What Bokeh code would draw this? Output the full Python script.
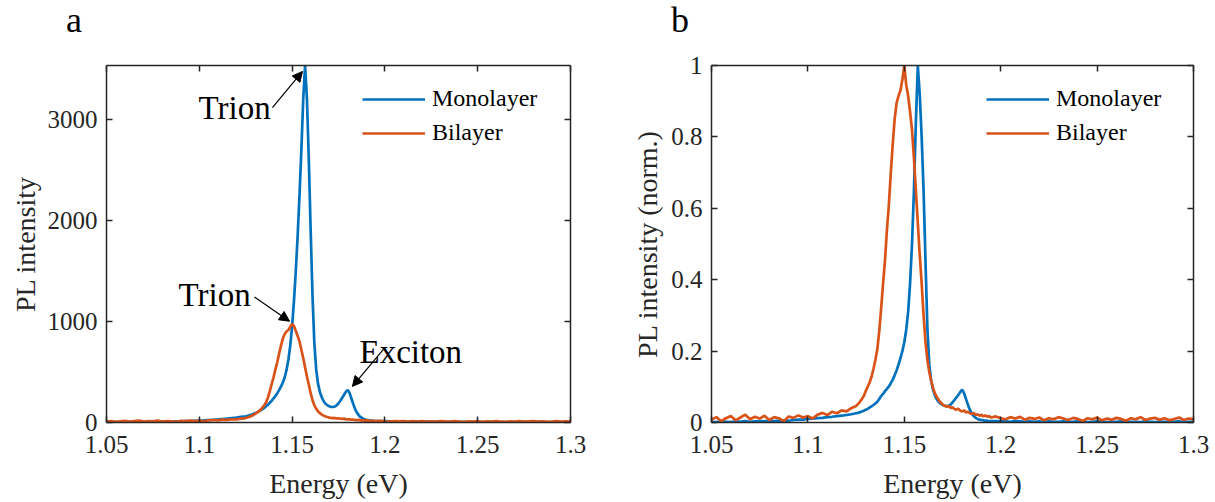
from bokeh.plotting import figure
from bokeh.models import (Range1d, FixedTicker, LinearAxis, Label, Arrow, Div,
                          NormalHead, Legend, LegendItem, CustomLabelingPolicy)
from bokeh.layouts import row, column
from bokeh.embed import file_html
from bokeh.resources import INLINE

FONT = "Liberation Serif"
BLUE = "#0072BD"
ORANGE = "#D95319"
AX = "#262626"

# ---------------- data ----------------
energy = [
    1.050, 1.0525, 1.055, 1.0575, 1.060, 1.0625, 1.065, 1.0675, 1.070, 1.0725,
    1.075, 1.0775, 1.080, 1.0825, 1.085, 1.0875, 1.090, 1.0925, 1.095, 1.0975,
    1.100, 1.1025, 1.105, 1.1075, 1.110, 1.1125, 1.115, 1.1175, 1.120, 1.1225, 1.125,
    1.126, 1.127, 1.128, 1.129, 1.130, 1.131, 1.132, 1.133, 1.134, 1.135,
    1.136, 1.137, 1.138, 1.139, 1.140, 1.141, 1.142, 1.143, 1.144, 1.145,
    1.146, 1.147, 1.148, 1.149, 1.150, 1.151, 1.152, 1.153, 1.154, 1.155,
    1.156, 1.157, 1.158, 1.159, 1.160, 1.161, 1.162, 1.163, 1.164, 1.165,
    1.166, 1.167, 1.168, 1.169, 1.170, 1.171, 1.172, 1.173, 1.174, 1.175,
    1.176, 1.177, 1.178, 1.179, 1.180, 1.181, 1.182, 1.183, 1.184, 1.185,
    1.186, 1.187, 1.188, 1.189, 1.190, 1.191, 1.192, 1.193, 1.194, 1.195,
    1.1975, 1.200, 1.2025, 1.205, 1.2075, 1.210, 1.2125, 1.215, 1.2175, 1.220,
    1.2225, 1.225, 1.2275, 1.230, 1.2325, 1.235, 1.2375, 1.240, 1.2425, 1.245,
    1.2475, 1.250, 1.2525, 1.255, 1.2575, 1.260, 1.2625, 1.265, 1.2675, 1.270,
    1.2725, 1.275, 1.2775, 1.280, 1.2825, 1.285, 1.2875, 1.290, 1.2925, 1.295,
    1.2975, 1.300,
]

# panel a: PL intensity (counts)
mono_counts = [
    4, 3, 5, 4, 3, 5, 4, 6, 5, 6,
    7, 6, 8, 9, 10, 11, 12, 14, 15, 17,
    19, 21, 24, 27, 30, 34, 38, 43, 48, 55, 62,
    66, 71, 77, 84, 92, 100, 110, 120, 132, 145,
    160, 176, 195, 215, 238, 262, 290, 320, 355, 395,
    445, 520, 620, 760, 950, 1200, 1500, 1850, 2250, 2700,
    3200, 3530, 3200, 2600, 1900, 1250, 780, 520, 380, 300,
    250, 210, 185, 170, 160, 155, 153, 158, 170, 190,
    215, 245, 275, 305, 322, 290, 235, 180, 130, 95,
    70, 52, 40, 32, 27, 23, 20, 18, 16, 15,
    14, 13, 12, 11, 11, 10, 10, 9, 9, 8,
    8, 8, 7, 7, 7, 6, 6, 6, 6, 5,
    5, 5, 5, 5, 4, 4, 4, 4, 4, 4,
    3, 3, 3, 3, 3, 3, 3, 3, 3, 3,
    3, 3,
]
bi_counts = [
    10, 15, 6, 12, 17, 8, 14, 20, 9, 15,
    11, 18, 8, 14, 12, 6, 16, 13, 19, 14,
    18, 12, 21, 25, 21, 28, 26, 32, 31, 38, 44,
    50, 56, 63, 72, 85, 97, 110, 125, 146, 170,
    200, 248, 310, 380, 445, 525, 595, 680, 760, 830,
    875, 900, 915, 945, 975, 955, 905, 855, 800, 720,
    635, 545, 455, 375, 290, 220, 170, 135, 110, 92,
    78, 68, 60, 54, 49, 46, 43, 45, 40, 42,
    37, 35, 38, 32, 30, 33, 27, 29, 25, 23,
    26, 20, 22, 18, 21, 16, 19, 15, 17, 14,
    16, 12, 9, 14, 11, 15, 8, 13, 10, 14,
    7, 12, 9, 15, 11, 8, 13, 10, 5, 12,
    9, 14, 7, 11, 8, 13, 10, 6, 12, 9,
    15, 8, 11, 13, 8, 12, 7, 10, 14, 8,
    11, 9,
]

# panel b: normalized PL intensity
mono_norm = [
    0.002, 0.001, 0.003, 0.002, 0.001, 0.003, 0.002, 0.004, 0.002, 0.003,
    0.004, 0.003, 0.005, 0.004, 0.005, 0.006, 0.005, 0.007, 0.008, 0.008,
    0.010, 0.011, 0.012, 0.013, 0.015, 0.016, 0.018, 0.019, 0.021, 0.023, 0.026,
    0.027, 0.029, 0.031, 0.033, 0.036, 0.038, 0.042, 0.045, 0.049, 0.053,
    0.058, 0.066, 0.074, 0.080, 0.088, 0.094, 0.101, 0.110, 0.120, 0.132,
    0.146, 0.162, 0.180, 0.200, 0.225, 0.260, 0.310, 0.390, 0.500, 0.650,
    0.840, 1.000, 0.920, 0.800, 0.650, 0.450, 0.260, 0.160, 0.115, 0.090,
    0.074, 0.064, 0.057, 0.052, 0.049, 0.047, 0.046, 0.047, 0.050, 0.056,
    0.063, 0.070, 0.077, 0.085, 0.092, 0.082, 0.066, 0.050, 0.036, 0.025,
    0.018, 0.013, 0.010, 0.008, 0.007, 0.006, 0.005, 0.005, 0.004, 0.004,
    0.004, 0.003, 0.003, 0.002, 0.004, 0.003, 0.002, 0.003, 0.002, 0.003,
    0.001, 0.003, 0.002, 0.002, 0.003, 0.001, 0.002, 0.003, 0.002, 0.001,
    0.002, 0.003, 0.002, 0.001, 0.002, 0.002, 0.003, 0.001, 0.002, 0.002,
    0.001, 0.003, 0.002, 0.001, 0.002, 0.002, 0.001, 0.002, 0.003, 0.001,
    0.002, 0.002,
]
bi_norm = [
    0.008, 0.015, 0.004, 0.012, 0.018, 0.006, 0.014, 0.022, 0.009, 0.016,
    0.011, 0.019, 0.007, 0.015, 0.012, 0.003, 0.017, 0.013, 0.020, 0.014,
    0.018, 0.011, 0.022, 0.027, 0.021, 0.030, 0.026, 0.034, 0.031, 0.040, 0.046,
    0.052, 0.058, 0.066, 0.074, 0.088, 0.100, 0.112, 0.128, 0.150, 0.175,
    0.205, 0.255, 0.320, 0.390, 0.455, 0.540, 0.610, 0.700, 0.780, 0.850,
    0.895, 0.915, 0.930, 0.960, 1.000, 0.945, 0.915, 0.870, 0.820, 0.740,
    0.650, 0.560, 0.470, 0.390, 0.300, 0.225, 0.175, 0.140, 0.115, 0.095,
    0.080, 0.070, 0.062, 0.055, 0.050, 0.047, 0.044, 0.046, 0.041, 0.043,
    0.038, 0.036, 0.039, 0.033, 0.031, 0.034, 0.028, 0.030, 0.026, 0.024,
    0.027, 0.021, 0.023, 0.019, 0.022, 0.017, 0.020, 0.016, 0.018, 0.014,
    0.017, 0.012, 0.009, 0.015, 0.011, 0.016, 0.008, 0.013, 0.010, 0.014,
    0.006, 0.012, 0.009, 0.015, 0.011, 0.007, 0.013, 0.010, 0.004, 0.012,
    0.009, 0.014, 0.006, 0.011, 0.008, 0.013, 0.010, 0.005, 0.012, 0.009,
    0.015, 0.007, 0.011, 0.013, 0.008, 0.012, 0.006, 0.010, 0.014, 0.007,
    0.011, 0.009,
]

series_names = ["Monolayer", "Bilayer"]
panel_letters = ["a", "b"]
x_ticks = [1.05, 1.1, 1.15, 1.2, 1.25, 1.3]
x_tick_labels = ["1.05", "1.1", "1.15", "1.2", "1.25", "1.3"]
ya_ticks = [0, 1000, 2000, 3000]
ya_tick_labels = ["0", "1000", "2000", "3000"]
yb_ticks = [0, 0.2, 0.4, 0.6, 0.8, 1.0]
yb_tick_labels = ["0", "0.2", "0.4", "0.6", "0.8", "1"]


def style_axis(ax, ticks, labels, show_labels=True):
    ax.ticker = FixedTicker(ticks=ticks)
    ax.major_label_overrides = dict(zip(ticks, labels))
    ax.major_tick_in = 6
    ax.major_tick_out = 0
    ax.minor_tick_in = 0
    ax.minor_tick_out = 0
    ax.axis_line_color = AX
    ax.axis_line_width = 1.5
    ax.major_tick_line_color = AX
    ax.major_tick_line_width = 1.5
    ax.major_label_text_font = FONT
    ax.major_label_text_color = AX
    ax.major_label_text_font_size = "25px"
    if not show_labels:
        ax.major_label_text_font_size = "2px"
        ax.major_label_standoff = 0
        ax.major_label_policy = CustomLabelingPolicy(code="return []")
    ax.axis_label_text_font = FONT
    ax.axis_label_text_font_size = "28px"
    ax.axis_label_text_font_style = "normal"
    ax.axis_label_text_color = AX


def make_panel(mono, bi, ymax, yticks, ylabels, ylabel, left_border,
               frame_w, right_border, y_standoff, legend_x):
    p = figure(frame_width=frame_w, frame_height=357,
               x_range=Range1d(1.05, 1.3), y_range=Range1d(0, ymax),
               output_backend="svg", toolbar_location=None,
               min_border_left=left_border, min_border_right=right_border,
               min_border_top=25, min_border_bottom=80, margin=(0, 0, 0, 0))
    p.grid.visible = False
    p.outline_line_color = None
    p.background_fill_color = "white"
    p.border_fill_color = "white"

    style_axis(p.xaxis[0], x_ticks, x_tick_labels)
    p.xaxis[0].axis_label = "Energy (eV)"
    p.xaxis[0].major_label_standoff = 13
    p.xaxis[0].axis_label_standoff = 12
    style_axis(p.yaxis[0], yticks, ylabels)
    p.yaxis[0].axis_label = ylabel
    p.yaxis[0].major_label_standoff = 9
    p.yaxis[0].axis_label_standoff = y_standoff

    top = LinearAxis()
    style_axis(top, x_ticks, x_tick_labels, show_labels=False)
    p.add_layout(top, "above")
    right = LinearAxis()
    style_axis(right, yticks, ylabels, show_labels=False)
    p.add_layout(right, "right")

    r1 = p.line(energy, mono, line_color=BLUE, line_width=2.7)
    r2 = p.line(energy, bi, line_color=ORANGE, line_width=2.7)

    legend = Legend(items=[LegendItem(label=series_names[0], renderers=[r1]),
                           LegendItem(label=series_names[1], renderers=[r2])],
                    location=(legend_x, 276), glyph_width=63, glyph_height=26,
                    label_height=26, spacing=7, padding=0, margin=0,
                    label_standoff=7, border_line_color=None,
                    background_fill_alpha=0, label_text_font=FONT,
                    label_text_font_size="24px", label_text_color="black")
    p.add_layout(legend)
    return p


def letter_div(letter, left, width):
    html = ('<div style="margin-left:%dpx;font-family:\'Liberation Serif\';'
            'font-size:36px;line-height:40px;color:#000">%s</div>' % (left, letter))
    return Div(text=html, width=width, height=40, margin=(0, 0, 0, 0))


pa = make_panel(mono_counts, bi_counts, 3530, ya_ticks, ya_tick_labels,
                "PL intensity", 106, 464, 37, 4, 256)
pb = make_panel(mono_norm, bi_norm, 1.0, yb_ticks, yb_tick_labels,
                "PL intensity (norm.)", 104, 482, 22, 5, 275)

# annotations on panel a
ann = [("Trion", 1.0996, 3114), ("Trion", 1.0888, 1259), ("Exciton", 1.1863, 694)]
for t, x, y in ann:
    pa.add_layout(Label(x=x, y=y, text=t, text_font=FONT, text_font_size="33px",
                        text_color="black", text_align="left",
                        text_baseline="alphabetic"))
arrows = [(1.1394, 3114, 1.1556, 3471), (1.1297, 1240, 1.1486, 1001),
          (1.1992, 724, 1.1825, 357)]
for xs, ys, xe, ye in arrows:
    pa.add_layout(Arrow(end=NormalHead(size=10, fill_color="black",
                                       line_color="black", line_width=1),
                        x_start=xs, y_start=ys, x_end=xe, y_end=ye,
                        line_color="black", line_width=1.2))

layout = row(column(letter_div(panel_letters[0], 66, 607), pa, spacing=0,
                    margin=(0, 0, 0, 0)),
             column(letter_div(panel_letters[1], 64, 608), pb, spacing=0,
                    margin=(0, 0, 0, 0)),
             spacing=0, margin=(0, 0, 0, 0))
open("out.html", "w").write(file_html(layout, INLINE))
